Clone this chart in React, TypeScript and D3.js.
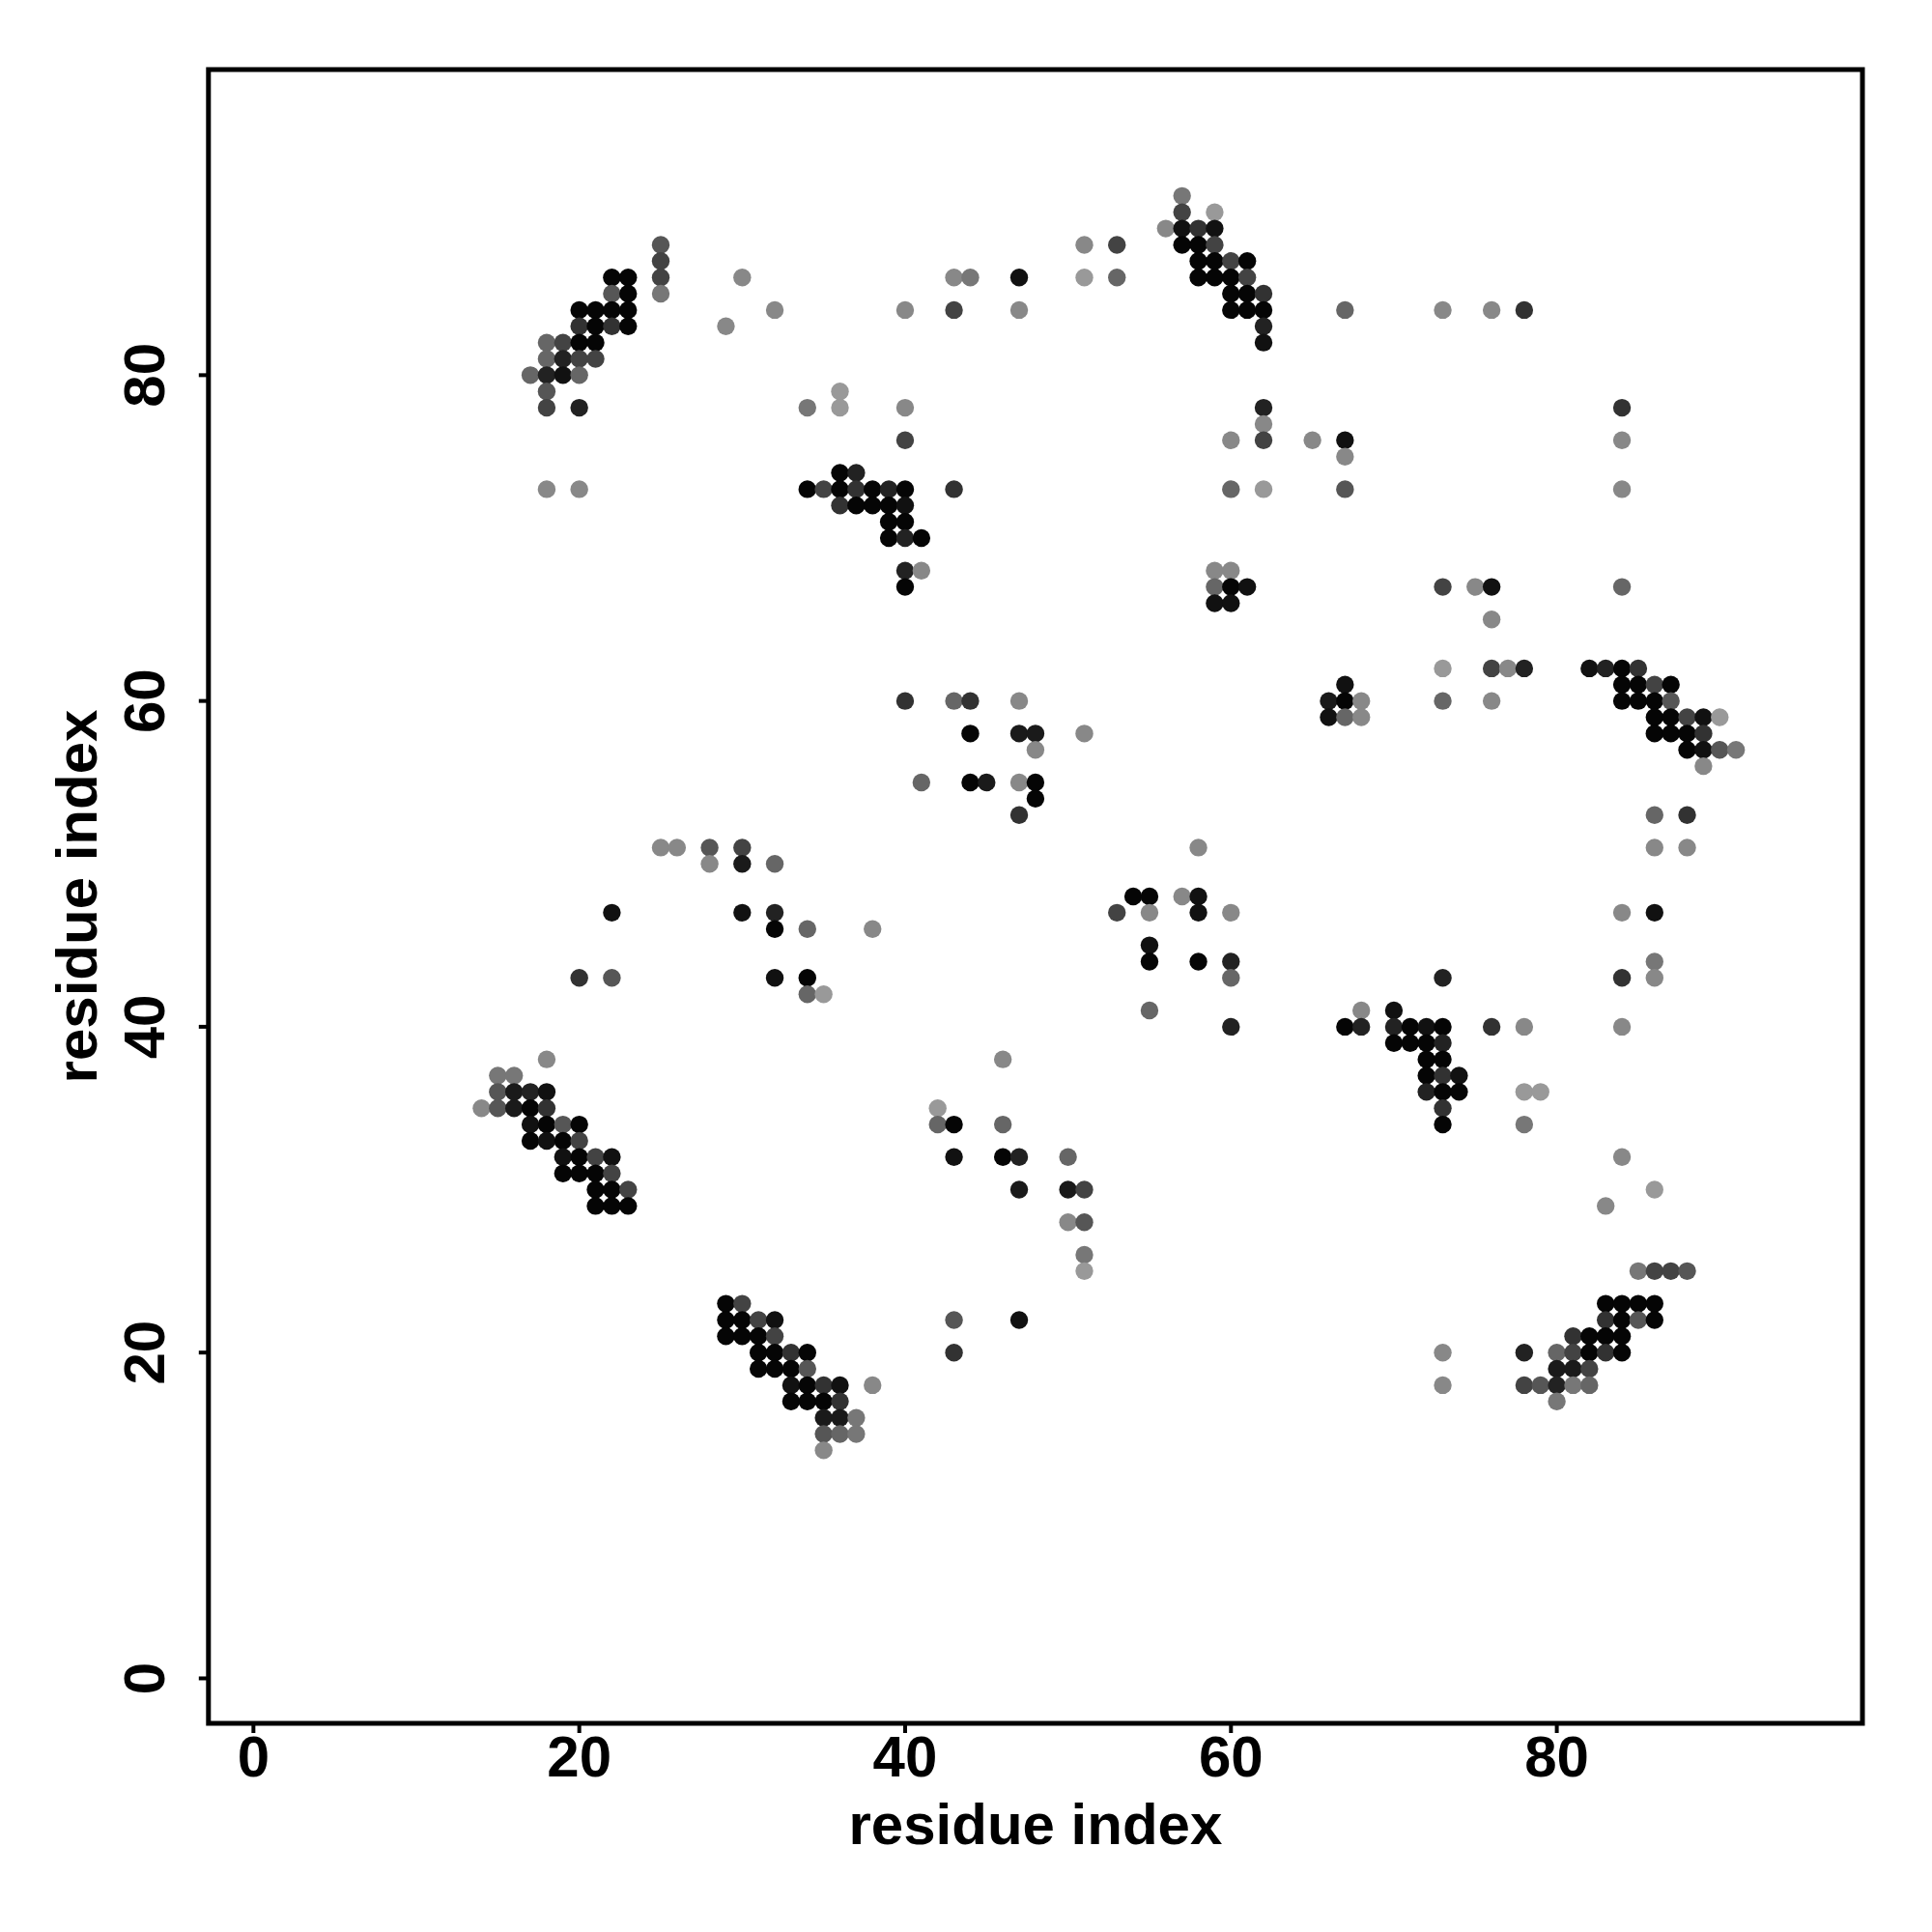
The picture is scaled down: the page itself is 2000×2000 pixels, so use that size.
import React from "react";
import * as d3 from "d3";

// axis content
const xTicks = [0, 20, 40, 60, 80];
const yTicks = [0, 20, 40, 60, 80];
const xTitle = "residue index";
const yTitle = "residue index";
const residueLimits = [1, 95];

// contacts: [residue i, residue j, score]
const clusterTopLeft: [number, number, number][] = [
  [25, 88, 0.46], [25, 87, 0.58], [25, 86, 0.58], [25, 85, 0.24],
  [22, 86, 0.99], [23, 86, 0.99], [22, 85, 0.46], [23, 85, 0.99],
  [20, 84, 0.99], [21, 84, 0.99], [22, 84, 0.99], [23, 84, 0.99],
  [20, 83, 0.69], [21, 83, 0.99], [22, 83, 0.69], [23, 83, 0.99],
  [18, 82, 0.35], [19, 82, 0.58], [20, 82, 0.99], [21, 82, 0.99],
  [18, 81, 0.35], [19, 81, 0.8], [20, 81, 0.58], [21, 81, 0.58],
  [17, 80, 0.35], [18, 80, 0.8], [19, 80, 0.91], [20, 80, 0.35],
  [18, 79, 0.46], [18, 78, 0.58], [20, 78, 0.8],
  [30, 86, 0.13], [32, 84, 0.13], [29, 83, 0.13],
  [36, 79, 0.02], [36, 78, 0.02], [34, 78, 0.24],
  [18, 73, 0.13], [20, 73, 0.13],
  [36, 74, 0.99], [37, 74, 0.8],
  [34, 73, 0.99], [35, 73, 0.58], [36, 73, 0.99], [37, 73, 0.69], [38, 73, 0.99], [39, 73, 0.8],
  [36, 72, 0.69], [37, 72, 0.99], [38, 72, 0.99], [39, 72, 0.99],
  [39, 71, 0.99], [39, 70, 0.99],
];

const clusterTopMiddle: [number, number, number][] = [
  [57, 91, 0.24], [57, 90, 0.58], [59, 90, 0.02],
  [56, 89, 0.13], [57, 89, 0.91], [58, 89, 0.69], [59, 89, 0.91],
  [57, 88, 0.99], [58, 88, 0.99], [59, 88, 0.58],
  [58, 87, 0.99], [59, 87, 0.99], [60, 87, 0.58], [61, 87, 0.99],
  [58, 86, 0.99], [59, 86, 0.99], [60, 86, 0.99], [61, 86, 0.58],
  [60, 85, 0.99], [61, 85, 0.99], [62, 85, 0.69],
  [60, 84, 0.99], [61, 84, 0.99], [62, 84, 0.99],
  [62, 83, 0.8], [62, 82, 0.91],
  [51, 88, 0.13], [53, 88, 0.58], [51, 86, 0.02], [53, 86, 0.35],
  [43, 86, 0.13], [44, 86, 0.24], [47, 86, 0.91],
  [40, 84, 0.13], [43, 84, 0.58], [47, 84, 0.13],
  [40, 78, 0.13], [40, 76, 0.58],
  [62, 78, 0.8], [62, 77, 0.13], [62, 76, 0.58], [60, 76, 0.13], [65, 76, 0.13],
  [60, 73, 0.35], [62, 73, 0.02], [43, 73, 0.69],
  [40, 73, 0.99], [40, 72, 0.91], [40, 71, 0.99], [40, 70, 0.8], [41, 70, 0.99],
  [40, 68, 0.8], [41, 68, 0.13], [40, 67, 0.99],
  [59, 68, 0.13], [60, 68, 0.13], [59, 67, 0.35], [60, 67, 0.99], [61, 67, 0.91],
  [59, 66, 0.91], [60, 66, 0.91],
];

const clusterTopRight: [number, number, number][] = [
  [67, 84, 0.35], [73, 84, 0.13], [76, 84, 0.13], [78, 84, 0.69],
  [84, 78, 0.69], [67, 76, 0.91], [67, 75, 0.13], [67, 73, 0.46],
  [84, 76, 0.13], [84, 73, 0.13],
  [73, 67, 0.58], [75, 67, 0.13], [76, 67, 0.91], [84, 67, 0.35],
];

const clusterMiddleLeft: [number, number, number][] = [
  [25, 51, 0.13], [26, 51, 0.13], [28, 51, 0.46], [30, 51, 0.58],
  [28, 50, 0.13], [30, 50, 0.85], [32, 50, 0.35],
  [22, 47, 0.91], [30, 47, 0.91], [32, 47, 0.8],
  [32, 46, 0.99], [34, 46, 0.35], [38, 46, 0.13],
  [20, 43, 0.69], [22, 43, 0.46], [32, 43, 0.91], [34, 43, 0.99],
  [34, 42, 0.35], [35, 42, 0.02],
];

const clusterCenter: [number, number, number][] = [
  [40, 60, 0.69], [43, 60, 0.35], [44, 60, 0.69], [47, 60, 0.13],
  [44, 58, 0.99], [47, 58, 0.85], [48, 58, 0.85], [48, 57, 0.13], [51, 58, 0.13],
  [41, 55, 0.35], [44, 55, 0.99], [45, 55, 0.85], [47, 55, 0.13], [48, 55, 0.99],
  [48, 54, 0.99], [47, 53, 0.69],
  [58, 51, 0.13],
  [54, 48, 0.99], [55, 48, 0.99], [57, 48, 0.13], [58, 48, 0.91],
  [53, 47, 0.58], [55, 47, 0.13], [58, 47, 0.91], [60, 47, 0.13],
  [55, 45, 0.91], [55, 44, 0.99], [58, 44, 0.99], [60, 44, 0.8],
  [60, 43, 0.35], [55, 41, 0.35], [60, 40, 0.8],
];

const clusterMiddleRight: [number, number, number][] = [
  [76, 65, 0.13],
  [73, 62, 0.02], [76, 62, 0.58], [77, 62, 0.13], [78, 62, 0.8],
  [73, 60, 0.35], [76, 60, 0.13],
  [67, 61, 0.91], [66, 60, 0.85], [67, 60, 0.99], [68, 60, 0.13],
  [66, 59, 0.91], [67, 59, 0.35], [68, 59, 0.13],
  [82, 62, 0.91], [83, 62, 0.8], [84, 62, 0.99], [85, 62, 0.69],
  [84, 61, 0.99], [85, 61, 0.99], [86, 61, 0.58], [87, 61, 0.99],
  [84, 60, 0.99], [85, 60, 0.99], [86, 60, 0.99], [87, 60, 0.46],
  [86, 59, 0.99], [87, 59, 0.99], [88, 59, 0.58], [89, 59, 0.91], [90, 59, 0.02],
  [86, 58, 0.99], [87, 58, 0.99], [88, 58, 0.99], [89, 58, 0.69],
  [88, 57, 0.99], [89, 57, 0.91], [90, 57, 0.46], [91, 57, 0.24],
  [89, 56, 0.13],
  [86, 53, 0.35], [88, 53, 0.69], [86, 51, 0.13], [88, 51, 0.13],
  [84, 47, 0.13], [86, 47, 0.91],
  [86, 44, 0.24], [86, 43, 0.13], [84, 43, 0.69], [73, 43, 0.8],
  [68, 41, 0.13], [70, 41, 0.91],
];

const clusterBottomRight: [number, number, number][] = [
  [67, 40, 0.99], [68, 40, 0.8], [70, 40, 0.8], [71, 40, 0.99], [72, 40, 0.91], [73, 40, 0.99],
  [76, 40, 0.69], [78, 40, 0.13], [84, 40, 0.13],
  [70, 39, 0.99], [71, 39, 0.99], [72, 39, 0.99], [73, 39, 0.8],
  [72, 38, 0.99], [73, 38, 0.99],
  [72, 37, 0.99], [73, 37, 0.69], [74, 37, 0.91],
  [72, 36, 0.8], [73, 36, 0.99], [74, 36, 0.99], [78, 36, 0.02], [79, 36, 0.02],
  [73, 35, 0.69], [73, 34, 0.99], [78, 34, 0.24],
  [84, 32, 0.13], [86, 30, 0.02], [83, 29, 0.13],
  [85, 25, 0.24], [86, 25, 0.58], [87, 25, 0.58], [88, 25, 0.46],
  [83, 23, 0.99], [84, 23, 0.99], [85, 23, 0.99], [86, 23, 0.99],
  [83, 22, 0.69], [84, 22, 0.99], [85, 22, 0.46], [86, 22, 0.99],
  [81, 21, 0.69], [82, 21, 0.99], [83, 21, 0.99], [84, 21, 0.99],
  [73, 20, 0.13], [78, 20, 0.8], [80, 20, 0.35], [81, 20, 0.58], [82, 20, 0.99], [83, 20, 0.69], [84, 20, 0.99],
  [80, 19, 0.85], [81, 19, 0.85], [82, 19, 0.58],
  [73, 18, 0.13], [78, 18, 0.58], [79, 18, 0.46], [80, 18, 0.8], [81, 18, 0.24], [82, 18, 0.35],
  [80, 17, 0.24],
];

const clusterBottomLeft: [number, number, number][] = [
  [18, 38, 0.13],
  [15, 37, 0.24], [16, 37, 0.24],
  [15, 36, 0.46], [16, 36, 0.85], [17, 36, 0.8], [18, 36, 0.91],
  [14, 35, 0.13], [15, 35, 0.46], [16, 35, 0.85], [17, 35, 0.99], [18, 35, 0.69],
  [17, 34, 0.91], [18, 34, 0.99], [19, 34, 0.46], [20, 34, 0.99],
  [17, 33, 0.99], [18, 33, 0.91], [19, 33, 0.99], [20, 33, 0.58],
  [19, 32, 0.91], [20, 32, 0.99], [21, 32, 0.58], [22, 32, 0.91],
  [19, 31, 0.99], [20, 31, 0.99], [21, 31, 0.99], [22, 31, 0.58],
  [21, 30, 0.99], [22, 30, 0.99], [23, 30, 0.58],
  [21, 29, 0.99], [22, 29, 0.99], [23, 29, 0.99],
  [29, 23, 0.99], [30, 23, 0.58],
  [29, 22, 0.99], [30, 22, 0.99], [31, 22, 0.58], [32, 22, 0.91],
  [29, 21, 0.99], [30, 21, 0.99], [31, 21, 0.99], [32, 21, 0.58],
  [31, 20, 0.99], [32, 20, 0.99], [33, 20, 0.69], [34, 20, 0.99],
  [31, 19, 0.99], [32, 19, 0.99], [33, 19, 0.99], [34, 19, 0.46],
  [33, 18, 0.91], [34, 18, 0.99], [35, 18, 0.69], [36, 18, 0.91], [38, 18, 0.13],
  [33, 17, 0.99], [34, 17, 0.99], [35, 17, 0.99], [36, 17, 0.69],
  [35, 16, 0.85], [36, 16, 0.85], [37, 16, 0.24],
  [35, 15, 0.46], [36, 15, 0.35], [37, 15, 0.24],
  [35, 14, 0.13],
];

const clusterBottomMiddle: [number, number, number][] = [
  [46, 38, 0.13], [42, 35, 0.02], [42, 34, 0.35], [43, 34, 0.99], [46, 34, 0.35],
  [43, 32, 0.91], [46, 32, 0.99], [47, 32, 0.8], [50, 32, 0.35],
  [47, 30, 0.85], [50, 30, 0.85], [51, 30, 0.58],
  [50, 28, 0.13], [51, 28, 0.46], [51, 26, 0.24], [51, 25, 0.02],
  [43, 22, 0.46], [47, 22, 0.91], [43, 20, 0.69],
];

const contacts = [
  ...clusterTopLeft, ...clusterTopMiddle, ...clusterTopRight,
  ...clusterMiddleLeft, ...clusterCenter, ...clusterMiddleRight,
  ...clusterBottomLeft, ...clusterBottomMiddle, ...clusterBottomRight,
];

const W = 2000;
const H = 2000;
const left = 215.8;
const right = 1928;
const top = 72;
const bottom = 1784;
const FONT = "'Liberation Sans', Arial, Helvetica, sans-serif";

export default function App() {
  const span = residueLimits[1] - residueLimits[0];
  const dom = [residueLimits[0] - 0.04 * span, residueLimits[1] + 0.04 * span];
  const x = d3.scaleLinear().domain(dom).range([left, right]);
  const y = d3.scaleLinear().domain(dom).range([bottom, top]);
  const shade = d3.scaleLinear<string>().domain([0, 1]).range(["#9c9c9c", "#030303"]);

  return (
    <svg
      width={W}
      height={H}
      viewBox={`0 0 ${W} ${H}`}
      style={{ position: "absolute", left: 0, top: 0, display: "block", background: "#fff" }}
    >
      <rect x={0} y={0} width={W} height={H} fill="#fff" />
      <g>
        {contacts.map(([i, j, s], k) => (
          <circle key={k} cx={x(i)} cy={y(j)} r={9.2} fill={shade(s)} />
        ))}
      </g>
      <rect
        x={left}
        y={top}
        width={right - left}
        height={bottom - top}
        fill="none"
        stroke="#000"
        strokeWidth={5}
      />
      <g fontFamily={FONT} fontWeight="bold" fontSize={60} fill="#000">
        {xTicks.map((t) => (
          <g key={`x${t}`}>
            <line x1={x(t)} x2={x(t)} y1={bottom} y2={bottom + 10} stroke="#000" strokeWidth={4} />
            <text x={x(t)} y={1839} textAnchor="middle">{t}</text>
          </g>
        ))}
        {yTicks.map((t) => (
          <g key={`y${t}`}>
            <line x1={left} x2={left - 10} y1={y(t)} y2={y(t)} stroke="#000" strokeWidth={4} />
            <text transform={`translate(170, ${y(t)}) rotate(-90)`} textAnchor="middle">{t}</text>
          </g>
        ))}
        <text x={(left + right) / 2} y={1909} textAnchor="middle">{xTitle}</text>
        <text transform={`translate(100, ${(top + bottom) / 2}) rotate(-90)`} textAnchor="middle">{yTitle}</text>
      </g>
    </svg>
  );
}
